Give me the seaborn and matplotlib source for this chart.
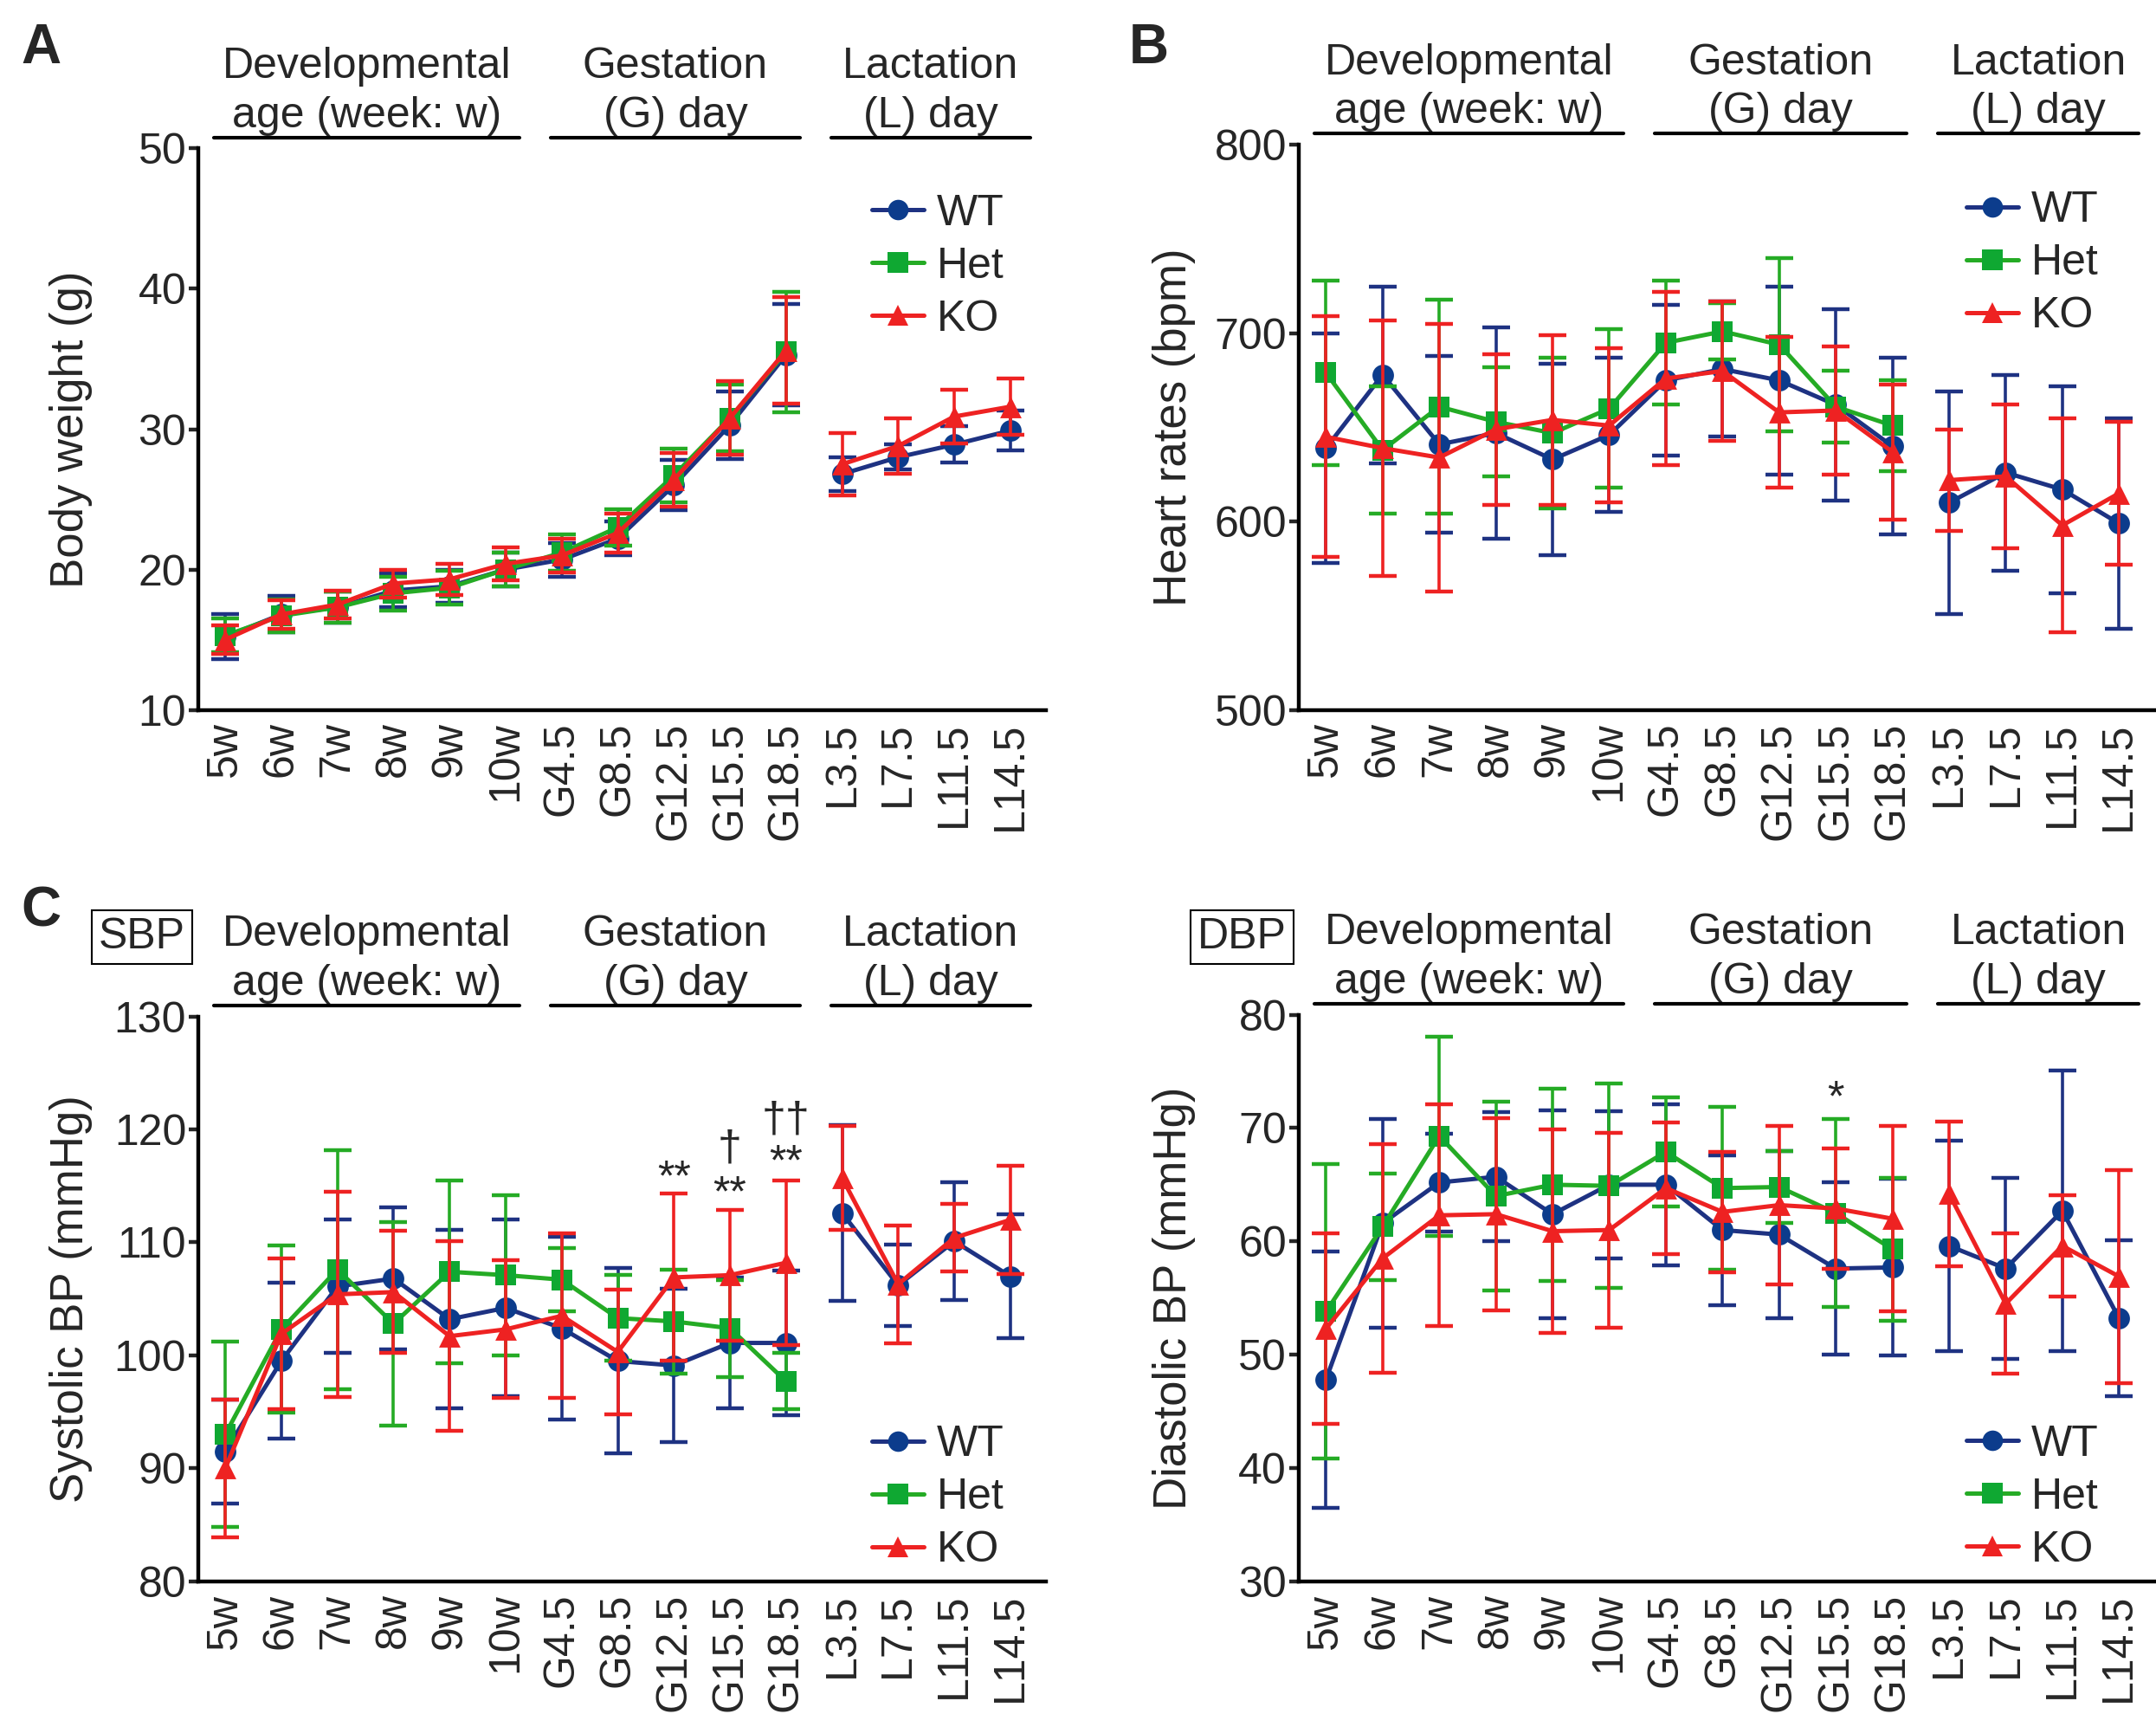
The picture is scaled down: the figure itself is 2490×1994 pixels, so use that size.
import numpy as np
import pandas as pd
import matplotlib
matplotlib.use("Agg")
import matplotlib.pyplot as plt
import seaborn as sns
from matplotlib.lines import Line2D
from matplotlib.transforms import blended_transform_factory

# time points (x axis)
timepoints = ['5w', '6w', '7w', '8w', '9w', '10w',
              'G4.5', 'G8.5', 'G12.5', 'G15.5', 'G18.5',
              'L3.5', 'L7.5', 'L11.5', 'L14.5']
segment = ['pre'] * 11 + ['lact'] * 4
nan = np.nan

# A: body weight (g), mean and SD
bw_wt = [15.2, 16.8, 17.3, 18.5, 18.8, 20.0, 20.7, 22.2, 26.0, 30.3, 35.3, 26.8, 28.0, 28.9, 29.9]
bw_wt_sd = [1.6, 1.3, 1.1, 1.2, 1.2, 1.2, 1.2, 1.2, 1.8, 2.4, 3.6, 1.2, 0.9, 1.3, 1.4]
bw_het = [15.3, 16.7, 17.3, 18.3, 18.7, 20.0, 21.2, 23.0, 26.7, 30.8, 35.5, nan, nan, nan, nan]
bw_het_sd = [1.2, 1.2, 1.1, 1.2, 1.2, 1.2, 1.3, 1.3, 1.9, 2.4, 4.3, nan, nan, nan, nan]
bw_ko = [15.0, 16.8, 17.5, 19.0, 19.3, 20.4, 21.0, 22.6, 26.4, 30.8, 35.6, 27.5, 28.8, 30.9, 31.6]
bw_ko_sd = [1.0, 1.0, 1.0, 1.0, 1.1, 1.2, 1.2, 1.4, 1.9, 2.6, 3.8, 2.2, 2.0, 1.9, 2.0]

# B: heart rate (bpm)
hr_wt = [639, 678, 641, 647, 633, 646, 675, 681, 675, 662, 640, 610, 626, 617, 599]
hr_wt_sd = [61, 47, 47, 56, 51, 41, 40, 36, 50, 51, 47, 59, 52, 55, 56]
hr_het = [679, 638, 661, 653, 647, 660, 695, 701, 694, 661, 651, nan, nan, nan, nan]
hr_het_sd = [49, 34, 57, 29, 40, 42, 33, 15, 46, 19, 24, nan, nan, nan, nan]
hr_ko = [645, 639, 634, 649, 654, 651, 676, 680, 658, 659, 637, 622, 624, 598, 615]
hr_ko_sd = [64, 68, 71, 40, 45, 41, 46, 37, 40, 34, 36, 27, 38, 57, 38]

# C: systolic BP (mmHg)
sbp_wt = [91.5, 99.5, 106.1, 106.8, 103.2, 104.2, 102.4, 99.5, 99.1, 101.1, 101.1, 112.6, 106.2, 110.1, 107.0]
sbp_wt_sd = [4.6, 6.9, 5.9, 6.3, 7.9, 7.8, 8.1, 8.2, 6.8, 5.8, 6.4, 7.8, 3.6, 5.2, 5.5]
sbp_het = [93.0, 102.3, 107.6, 102.8, 107.4, 107.1, 106.7, 103.3, 103.0, 102.4, 97.7, nan, nan, nan, nan]
sbp_het_sd = [8.2, 7.4, 10.6, 9.0, 8.1, 7.1, 2.8, 3.8, 4.6, 4.3, 2.5, nan, nan, nan, nan]
sbp_ko = [90.0, 101.9, 105.4, 105.6, 101.7, 102.3, 103.5, 100.3, 106.9, 107.1, 108.2, 115.7, 106.3, 110.4, 112.0]
sbp_ko_sd = [6.1, 6.7, 9.1, 5.4, 8.4, 6.1, 7.3, 5.5, 7.4, 5.8, 7.3, 4.6, 5.2, 3.0, 4.8]

# D: diastolic BP (mmHg)
dbp_wt = [47.8, 61.6, 65.2, 65.7, 62.4, 65.0, 65.0, 61.0, 60.6, 57.6, 57.7, 59.6, 57.6, 62.7, 53.2]
dbp_wt_sd = [11.3, 9.2, 4.3, 5.7, 9.2, 6.5, 7.1, 6.6, 7.4, 7.6, 7.8, 9.3, 8.0, 12.4, 6.9]
dbp_het = [53.8, 61.3, 69.3, 64.0, 65.0, 64.9, 67.9, 64.7, 64.8, 62.5, 59.3, nan, nan, nan, nan]
dbp_het_sd = [13.0, 4.7, 8.8, 8.3, 8.5, 9.0, 4.8, 7.2, 3.2, 8.3, 6.3, nan, nan, nan, nan]
dbp_ko = [52.3, 58.5, 62.3, 62.4, 60.9, 61.0, 64.7, 62.6, 63.2, 62.9, 62.0, 64.2, 54.5, 59.6, 56.9]
dbp_ko_sd = [8.4, 10.1, 9.8, 8.5, 9.0, 8.6, 5.8, 5.3, 7.0, 5.3, 8.2, 6.4, 6.2, 4.5, 9.4]

genotypes = ['WT', 'Het', 'KO']
line_colors = {'WT': '#1e3282', 'Het': '#25ab25', 'KO': '#ee2222'}
marker_colors = {'WT': '#0c3c8c', 'Het': '#0fa832', 'KO': '#ee2222'}
markers = {'WT': 'o', 'Het': 's', 'KO': '^'}

sns.set_theme(style='ticks')
plt.rcParams['font.family'] = ['Liberation Sans', 'DejaVu Sans']
FS = 36


def make_df(wt, wt_sd, het, het_sd, ko, ko_sd):
    rows = []
    for g, m, s in [('WT', wt, wt_sd), ('Het', het, het_sd), ('KO', ko, ko_sd)]:
        for i, t in enumerate(timepoints):
            rows.append({'x': i, 'time': t, 'genotype': g, 'mean': m[i],
                         'sd': s[i], 'segment': segment[i]})
    return pd.DataFrame(rows)


def draw_panel(ax, df, ylim, ystep, ylabel, legend_pos, label_x):
    for k, g in enumerate(genotypes):
        sub = df[df['genotype'] == g].dropna()
        z = 3 + k * 3
        ax.errorbar(sub['x'], sub['mean'], yerr=sub['sd'], fmt='none',
                    ecolor=line_colors[g], elinewidth=2.6, capsize=11.5,
                    capthick=3.2, zorder=z)
        sns.lineplot(data=sub, x='x', y='mean', units='segment', estimator=None,
                     color=line_colors[g], linewidth=3.6, ax=ax, zorder=z + 1,
                     legend=False)
        sns.scatterplot(data=sub, x='x', y='mean', marker=markers[g],
                        color=marker_colors[g], s=320, linewidth=0, ax=ax,
                        zorder=z + 2, legend=False)

    ax.set_xlim(-0.48, 14.63)
    ax.set_ylim(*ylim)
    ax.set_yticks(np.arange(ylim[0], ylim[1] + 1, ystep))
    ax.set_xticks(range(len(timepoints)))
    ax.set_xticklabels(timepoints, rotation=90, fontsize=FS)
    ax.tick_params(axis='y', labelsize=FS, length=8, width=3.2, pad=2)
    ax.tick_params(axis='x', length=0, pad=10)
    ax.set_xlabel('')
    ax.set_ylabel(ylabel, fontsize=38)
    ax.yaxis.set_label_coords(label_x, 0.5)
    for side in ['top', 'right']:
        ax.spines[side].set_visible(False)
    for side in ['left', 'bottom']:
        ax.spines[side].set_linewidth(3.2)
        ax.spines[side].set_color('black')

    # group headers above the axes
    tr = blended_transform_factory(ax.transData, ax.transAxes)
    headers = [('Developmental\nage (week: w)', -0.2, 5.25),
               ('Gestation\n(G) day', 5.8, 10.25),
               ('Lactation\n(L) day', 10.8, 14.35)]
    for text, x0, x1 in headers:
        ax.plot([x0, x1], [1.02, 1.02], color='black', lw=3, transform=tr,
                clip_on=False)
        ax.text((x0 + x1) / 2, 1.023, text, transform=tr, ha='center',
                va='bottom', fontsize=FS, linespacing=1.3)

    handles = [Line2D([0], [0], color=line_colors[g], lw=3.6, marker=markers[g],
                      markersize=17, markerfacecolor=marker_colors[g],
                      markeredgewidth=0) for g in genotypes]
    ax.legend(handles, genotypes, loc='center left', bbox_to_anchor=legend_pos,
              frameon=False, fontsize=FS, handlelength=1.2, handletextpad=0.3,
              labelspacing=0.3, borderpad=0, borderaxespad=0)


fig = plt.figure(figsize=(24.9, 19.94), dpi=100)
ax_a = fig.add_axes([0.092, 0.589, 0.393, 0.325])
ax_b = fig.add_axes([0.6024, 0.589, 0.397, 0.327])
ax_c = fig.add_axes([0.092, 0.0844, 0.393, 0.327])
ax_d = fig.add_axes([0.6024, 0.0844, 0.397, 0.328])

draw_panel(ax_a, make_df(bw_wt, bw_wt_sd, bw_het, bw_het_sd, bw_ko, bw_ko_sd),
           (10, 50), 10, 'Body weight (g)', (0.795, 0.79), -0.125)
draw_panel(ax_b, make_df(hr_wt, hr_wt_sd, hr_het, hr_het_sd, hr_ko, hr_ko_sd),
           (500, 800), 100, 'Heart rates (bpm)', (0.78, 0.79), -0.12)
draw_panel(ax_c, make_df(sbp_wt, sbp_wt_sd, sbp_het, sbp_het_sd, sbp_ko, sbp_ko_sd),
           (80, 130), 10, 'Systolic BP (mmHg)', (0.795, 0.148), -0.125)
draw_panel(ax_d, make_df(dbp_wt, dbp_wt_sd, dbp_het, dbp_het_sd, dbp_ko, dbp_ko_sd),
           (30, 80), 10, 'Diastolic BP (mmHg)', (0.78, 0.148), -0.12)

# significance marks
for x, y, s in [(8, 115.6, '**'), (9, 114.2, '**'), (9, 118.3, '†'),
                (10, 117.0, '**'), (10, 120.8, '††')]:
    ax_c.text(x, y, s, ha='center', va='center', fontsize=FS)
ax_d.text(9, 72.5, '*', ha='center', va='center', fontsize=FS)

# panel letters and boxed labels
fig.text(0.019, 0.972, 'A', fontsize=46, fontweight='bold', ha='center', va='center')
fig.text(0.533, 0.972, 'B', fontsize=46, fontweight='bold', ha='center', va='center')
fig.text(0.019, 0.472, 'C', fontsize=46, fontweight='bold', ha='center', va='center')
box = dict(boxstyle='square,pad=0.16', facecolor='white', edgecolor='black', linewidth=1.5)
fig.text(0.0657, 0.4575, 'SBP', fontsize=FS, ha='center', va='center', bbox=box)
fig.text(0.576, 0.4575, 'DBP', fontsize=FS, ha='center', va='center', bbox=box)

fig.savefig('out.png', dpi=100)
